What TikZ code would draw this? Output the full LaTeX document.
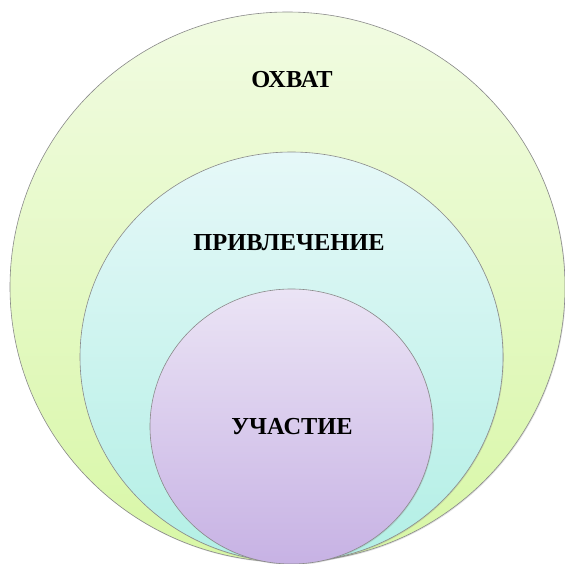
\documentclass[tikz,border=0pt]{standalone}
\usepackage{fontspec}
\setmainfont{Liberation Serif}
\usetikzlibrary{shadows}
\definecolor{gtop}{HTML}{F1FBE2}
\definecolor{gbot}{HTML}{D8F7A6}
\definecolor{ctop}{HTML}{E6F8F8}
\definecolor{cbot}{HTML}{B2EFE5}
\definecolor{ptop}{HTML}{EBE4F5}
\definecolor{pbot}{HTML}{C7B2E4}
\definecolor{rim}{HTML}{8A8A8A}
\tikzset{
  ring/.style={draw=rim, line width=0.6pt, drop shadow={shadow xshift=0.8pt, shadow yshift=-1pt, opacity=0.25}},
  lbl/.style={font=\fontsize{24.4}{26}\selectfont\bfseries, text=black}
}
\begin{document}
\begin{tikzpicture}[x=1pt,y=1pt]
\useasboundingbox (0,0) rectangle (565,-564);
\fill[white] (0,0) rectangle (565,-564);
\path[ring, top color=gtop, bottom color=gbot] (287.5,-287) ellipse [x radius=277.5, y radius=275];
\path[ring, top color=ctop, bottom color=cbot] (291.5,-357) ellipse [x radius=211.5, y radius=205];
\path[ring, top color=ptop, bottom color=pbot] (291.5,-426.5) ellipse [x radius=141.5, y radius=137.5];
\node[lbl] (ohvat) at (292,-80) {ОХВАТ};
\node[lbl] (priv) at (289,-243) {ПРИВЛЕЧЕНИЕ};
\node[lbl] (uch) at (292,-427) {УЧАСТИЕ};
\end{tikzpicture}
\end{document}
